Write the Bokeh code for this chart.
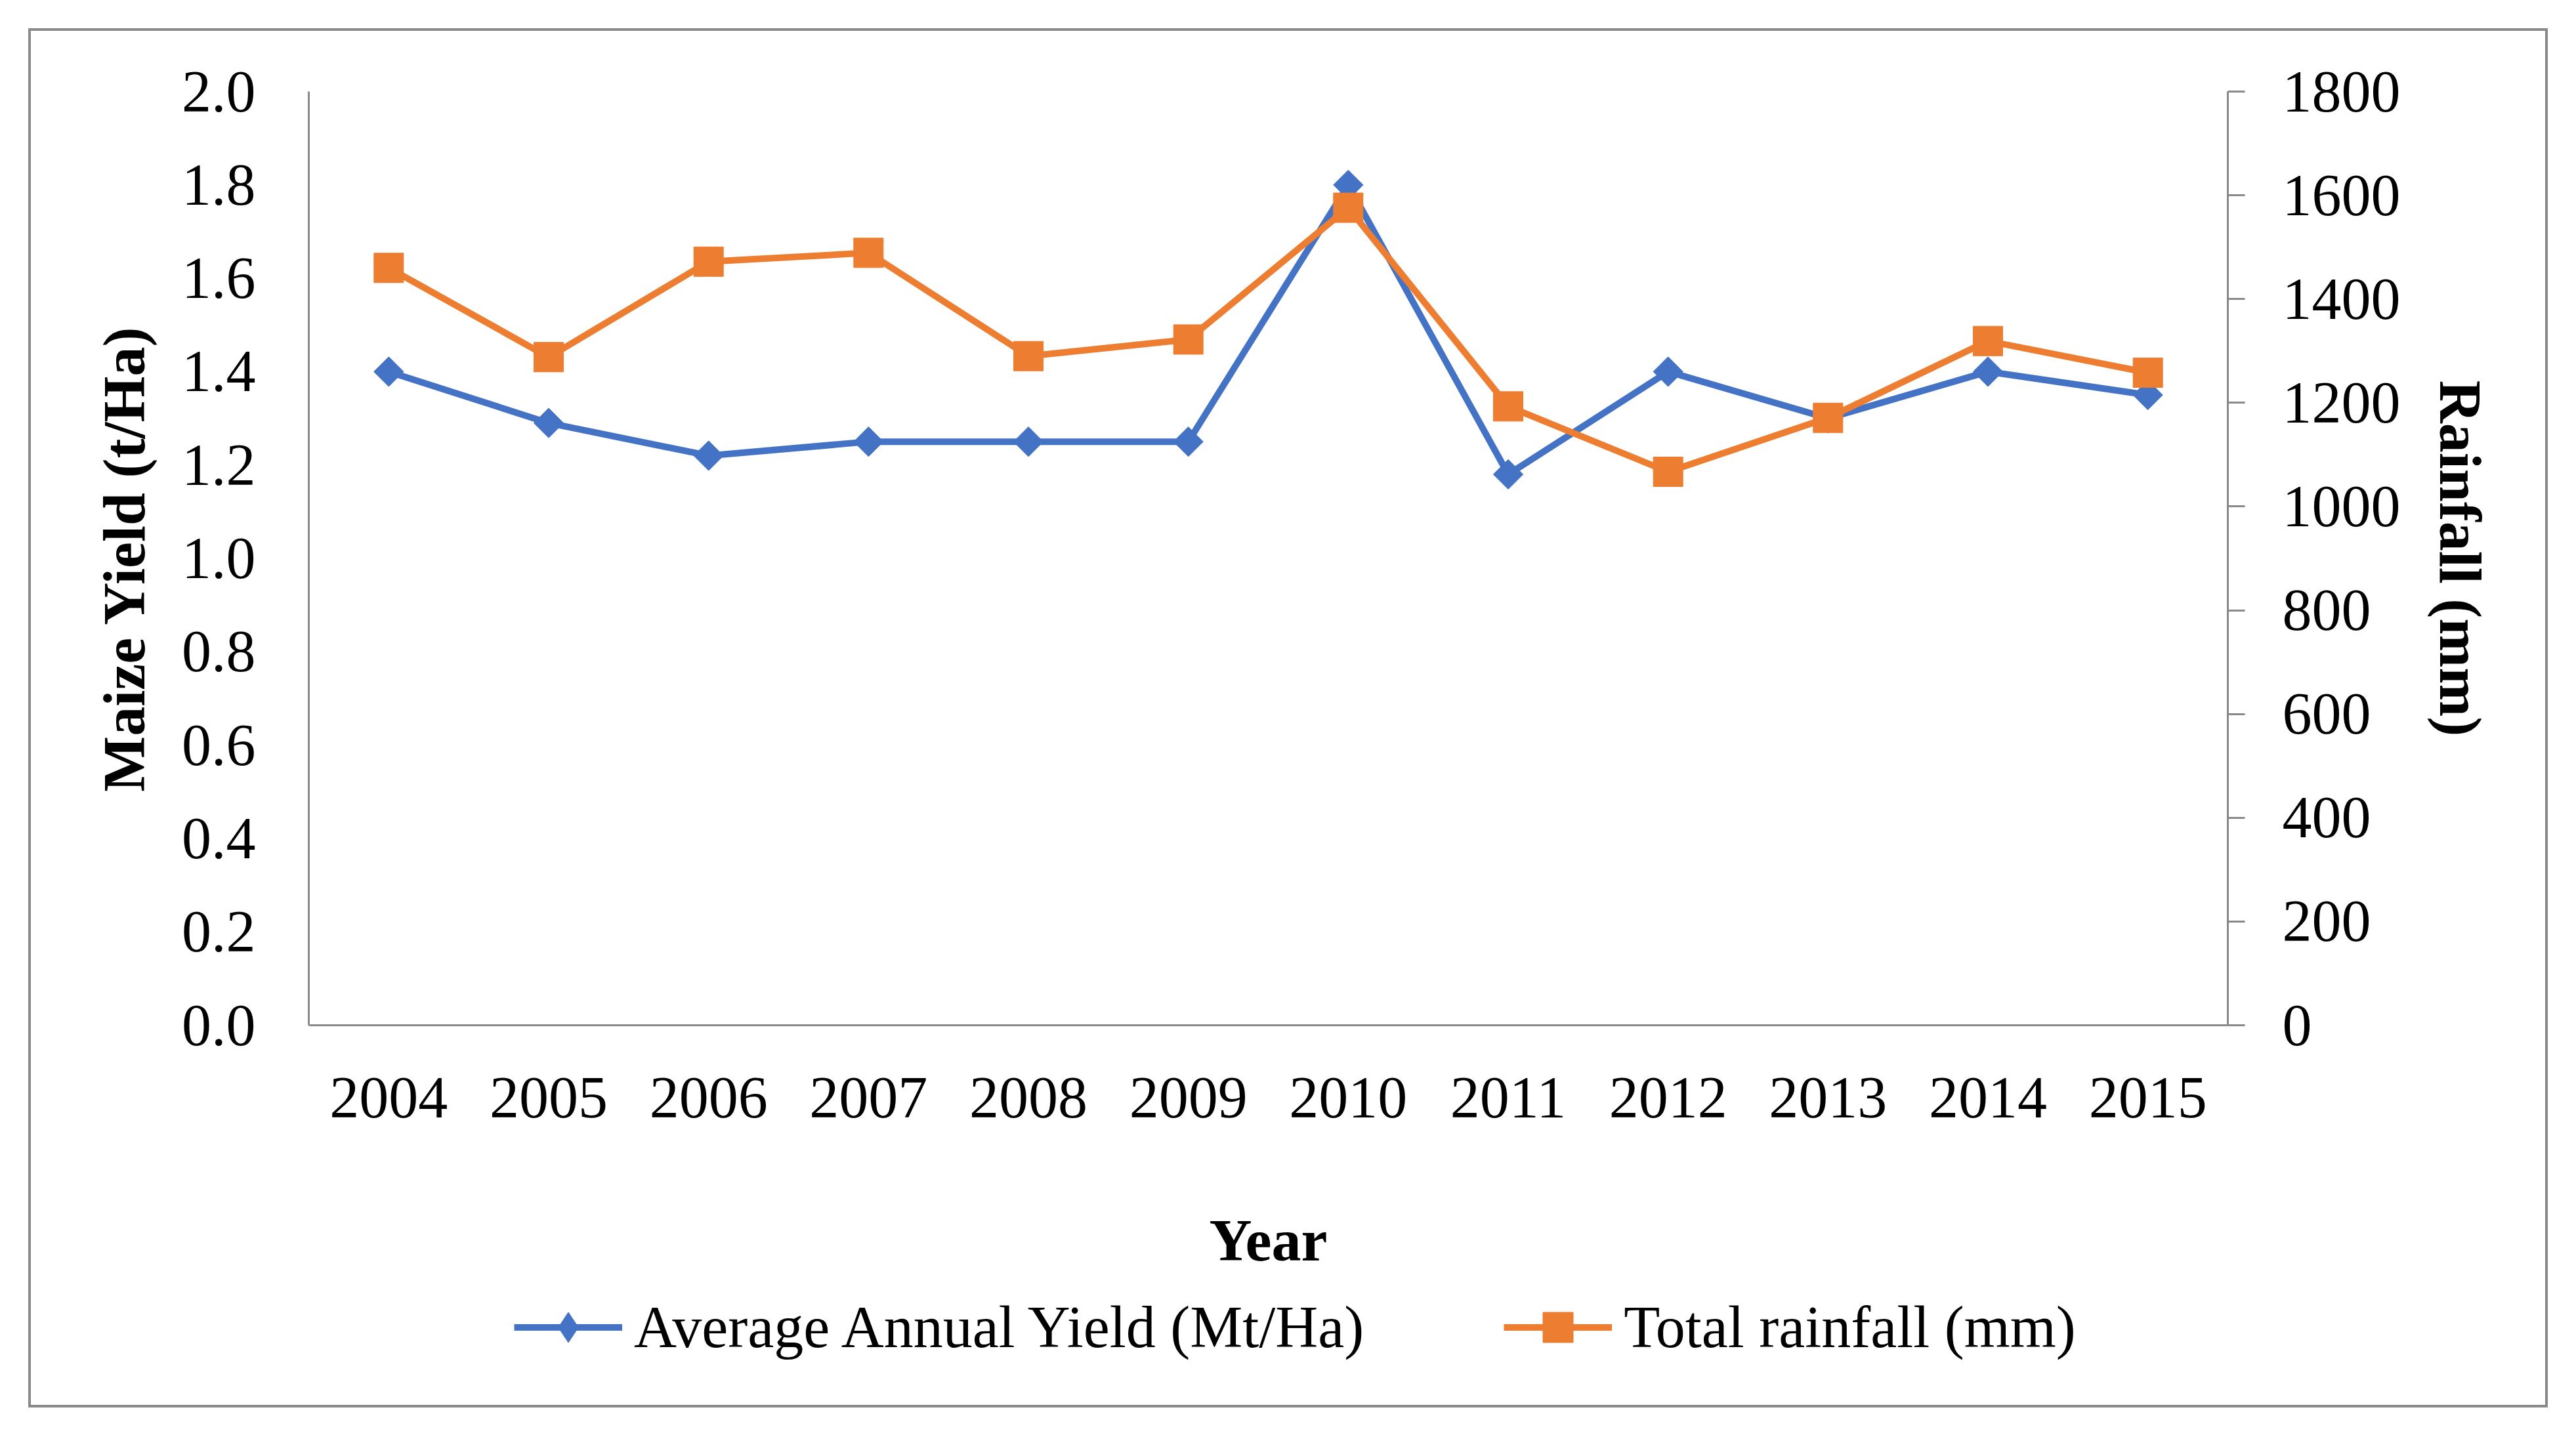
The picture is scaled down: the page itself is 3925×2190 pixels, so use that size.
import math
from bokeh.plotting import figure
from bokeh.models import (Range1d, LinearAxis, FixedTicker, NumeralTickFormatter,
                          Legend, LegendItem, FactorRange, InlineStyleSheet, Column)
from bokeh.embed import file_html
from bokeh.resources import INLINE

years = ["2004", "2005", "2006", "2007", "2008", "2009", "2010", "2011", "2012", "2013", "2014", "2015"]
yield_t_ha = [1.40, 1.29, 1.22, 1.25, 1.25, 1.25, 1.80, 1.18, 1.40, 1.30, 1.40, 1.35]
rainfall_mm = [1460, 1288, 1472, 1489, 1290, 1322, 1576, 1193, 1067, 1171, 1319, 1258]
yield_ticks = [0.0, 0.2, 0.4, 0.6, 0.8, 1.0, 1.2, 1.4, 1.6, 1.8, 2.0]
rain_ticks = [0, 200, 400, 600, 800, 1000, 1200, 1400, 1600, 1800]
series_labels = ["Average Annual Yield (Mt/Ha)", "Total rainfall (mm)"]

BLUE = "#4472C4"
ORANGE = "#ED7D31"
GRAY = "#898989"
FONT = "Liberation Serif"
FS = "90px"

W, H = 3925, 2188
HM = 1973          # main chart height
HL = H - HM        # legend strip height

p = figure(width=W, height=HM, output_backend="svg", toolbar_location=None,
           x_range=FactorRange(*years, range_padding=0),
           y_range=Range1d(0, 2.0))
p.extra_y_ranges = {"rain": Range1d(0, 1800)}
p.min_border_left = 470
p.min_border_right = W - 3394
p.min_border_top = 139
p.min_border_bottom = HM - 1562
p.outline_line_color = None
p.xgrid.visible = False
p.ygrid.visible = False
p.background_fill_color = "white"
p.border_fill_alpha = 0

# left axis
ya = p.yaxis[0]
ya.ticker = FixedTicker(ticks=yield_ticks)
ya.formatter = NumeralTickFormatter(format="0.0")
ya.axis_label = "Maize Yield (t/Ha)"
ya.major_tick_out = 0
ya.major_tick_in = 0
ya.minor_tick_out = 0
ya.minor_tick_in = 0
ya.major_label_standoff = 81
ya.axis_label_standoff = 35

# bottom axis
xa = p.xaxis[0]
xa.axis_label = "Year"
xa.major_tick_out = 0
xa.major_tick_in = 0
xa.major_label_standoff = 80
xa.axis_label_standoff = 135

# right axis
ra = LinearAxis(y_range_name="rain", ticker=FixedTicker(ticks=rain_ticks),
                axis_label="Rainfall (mm)")
ra.major_tick_out = 26
ra.major_tick_in = 0
ra.minor_tick_out = 0
ra.minor_tick_in = 0
ra.major_label_standoff = 57
ra.axis_label_standoff = 38
p.add_layout(ra, "right")

for ax in (ya, xa, ra):
    ax.axis_line_color = GRAY
    ax.axis_line_width = 3
    ax.major_tick_line_color = GRAY
    ax.major_tick_line_width = 3
    ax.major_label_text_font = FONT
    ax.major_label_text_font_size = FS
    ax.major_label_text_color = "black"
    ax.axis_label_text_font = FONT
    ax.axis_label_text_font_size = FS
    ax.axis_label_text_font_style = "bold"
    ax.axis_label_text_color = "black"

# series
p.line(years, yield_t_ha, line_color=BLUE, line_width=10)
p.scatter(years, yield_t_ha, marker="square", angle=math.pi / 4, size=32,
          fill_color=BLUE, line_color=BLUE)
p.line(years, rainfall_mm, line_color=ORANGE, line_width=10, y_range_name="rain")
p.scatter(years, rainfall_mm, marker="square", size=45,
          fill_color=ORANGE, line_color=ORANGE, y_range_name="rain")

# legend strip (same series, kept out of view; only their legend keys show)
lg = figure(width=W, height=HL, output_backend="svg", toolbar_location=None,
            x_range=FactorRange(*years), y_range=Range1d(5000, 5001),
            x_axis_location=None, y_axis_location=None, min_border=0)
lg.outline_line_color = None
lg.xgrid.visible = False
lg.ygrid.visible = False
lg.background_fill_alpha = 0
lg.border_fill_alpha = 0
l1 = lg.line(years, yield_t_ha, line_color=BLUE, line_width=10)
m1 = lg.scatter(years, yield_t_ha, marker="diamond", size=46, fill_color=BLUE, line_color=BLUE)
l2 = lg.line(years, rainfall_mm, line_color=ORANGE, line_width=10)
m2 = lg.scatter(years, rainfall_mm, marker="square", size=45, fill_color=ORANGE, line_color=ORANGE)

legend = Legend(items=[LegendItem(label=series_labels[0], renderers=[l1, m1]),
                       LegendItem(label=series_labels[1], renderers=[l2, m2])],
                orientation="horizontal", location=(313, HL - 49 - 58),
                padding=0, margin=0, spacing=213,
                glyph_width=165, glyph_height=115, label_height=115, label_standoff=18,
                label_text_font=FONT, label_text_font_size=FS, label_text_color="black",
                border_line_color=None, background_fill_alpha=0)
lg.add_layout(legend)

page = Column(children=[p, lg], spacing=0,
              stylesheets=[InlineStyleSheet(css=(
                  ":host { background: white; "
                  "box-shadow: inset 0 0 0 43px white, inset 0 0 0 47px #898989; }"))])

open("out.html", "w").write(file_html(page, INLINE))
